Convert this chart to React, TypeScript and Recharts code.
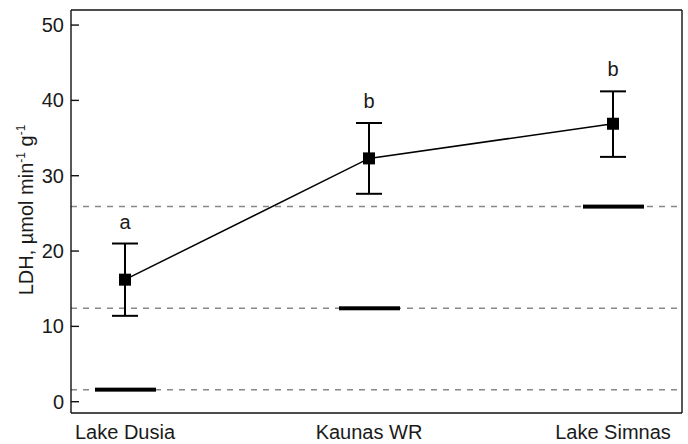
import * as React from 'react';
import { LineChart, Line, XAxis, YAxis, ErrorBar, ReferenceLine, LabelList } from 'recharts';

// values
const sites = ['Lake Dusia', 'Kaunas WR', 'Lake Simnas'];
const ldhMean = [16.2, 32.3, 36.9];
const ldhLow = [11.4, 27.6, 32.5];
const ldhHigh = [21.0, 37.0, 41.2];
const groupLetters = ['a', 'b', 'b'];
const refLevels = [1.6, 12.4, 25.9];
const yTicks = [0, 10, 20, 30, 40, 50];
const yDomain = [-1.5, 52];

const data = sites.map((site, i) => ({
    site,
    mean: ldhMean[i],
    err: [ldhMean[i] - ldhLow[i], ldhHigh[i] - ldhMean[i]],
    high: ldhHigh[i],
    letter: groupLetters[i],
    ref: refLevels[i]
}));

const font = '"Liberation Sans", Arial, sans-serif';
const frame = { stroke: '#111', strokeWidth: 1.4 };

const SquareDot = (props: any) => {
    const { cx, cy } = props;
    if (cx == null || cy == null) return null;
    return <rect x={cx - 6} y={cy - 6} width={12} height={12} fill="#000" />;
};

const RefBar = (props: any) => {
    const { cx, cy } = props;
    if (cx == null || cy == null) return null;
    return <rect x={cx - 30} y={cy - 2} width={61} height={4} fill="#000" />;
};

// short inward tick at the left edge of the plot
const InnerTick = (props: any) => {
    const x1 = Number(props.x1 ?? props.x ?? 71);
    const y1 = Number(props.y1 ?? props.y ?? 0);
    return <rect x={x1} y={y1 - 0.7} width={8} height={1.4} fill="#111" />;
};

const YLabel = () => (
    <text
        x={33}
        y={210}
        transform="rotate(-90, 33, 210)"
        textAnchor="middle"
        fontFamily={font}
        fontSize={20}
        fill="#1a1a1a"
    >
        LDH, µmol min
        <tspan dy={-8} fontSize={12}>-1</tspan>
        <tspan dy={8}> g</tspan>
        <tspan dy={-8} fontSize={12}>-1</tspan>
    </text>
);

export default function App() {
    return (
        <div style={{ position: 'absolute', left: 0, top: 0 }}>
            <LineChart width={688} height={444} data={data} margin={{ top: 9, right: 5, bottom: 0, left: 11 }}>
                <XAxis
                    dataKey="site"
                    padding={{ left: 54, right: 69 }}
                    height={31}
                    tickLine={false}
                    axisLine={frame}
                    tick={{ fill: '#1a1a1a', fontSize: 20, fontFamily: font }}
                    tickMargin={6}
                    interval={0}
                />
                <XAxis xAxisId="top" orientation="top" dataKey="site" height={1} tick={false} tickLine={false} axisLine={frame} />
                <YAxis
                    domain={yDomain}
                    ticks={yTicks}
                    width={60}
                    tickSize={0}
                    tickMargin={7}
                    tickLine={false}
                    axisLine={frame}
                    tick={{ fill: '#1a1a1a', fontSize: 20, fontFamily: font }}
                    label={<YLabel />}
                />
                <YAxis
                    yAxisId="inner"
                    orientation="left"
                    mirror
                    domain={yDomain}
                    ticks={yTicks}
                    width={8}
                    tickSize={8}
                    tickLine={frame}
                    axisLine={false}
                    tick={{ fill: 'none', fontSize: 1 }}
                />
                <YAxis yAxisId="right" orientation="right" domain={yDomain} width={1} tick={false} tickLine={false} axisLine={frame} />
                {yTicks.map((t) => (
                    <ReferenceLine key={'t' + t} y={t} stroke="#111" shape={(p: any) => <InnerTick {...p} />} />
                ))}
                {refLevels.map((v) => (
                    <ReferenceLine key={v} y={v} stroke="#888" strokeWidth={1.5} strokeDasharray="6 6" />
                ))}
                <Line dataKey="ref" stroke="none" dot={<RefBar />} activeDot={false} isAnimationActive={false} />
                <Line dataKey="high" stroke="none" dot={false} activeDot={false} isAnimationActive={false}>
                    <LabelList dataKey="letter" position="top" offset={15} fill="#1a1a1a" fontSize={20} fontFamily={font} />
                </Line>
                <Line
                    dataKey="mean"
                    stroke="#000"
                    strokeWidth={1.5}
                    dot={<SquareDot />}
                    activeDot={false}
                    isAnimationActive={false}
                >
                    <ErrorBar dataKey="err" width={13} stroke="#000" strokeWidth={2} direction="y" />
                </Line>
            </LineChart>
        </div>
    );
}
